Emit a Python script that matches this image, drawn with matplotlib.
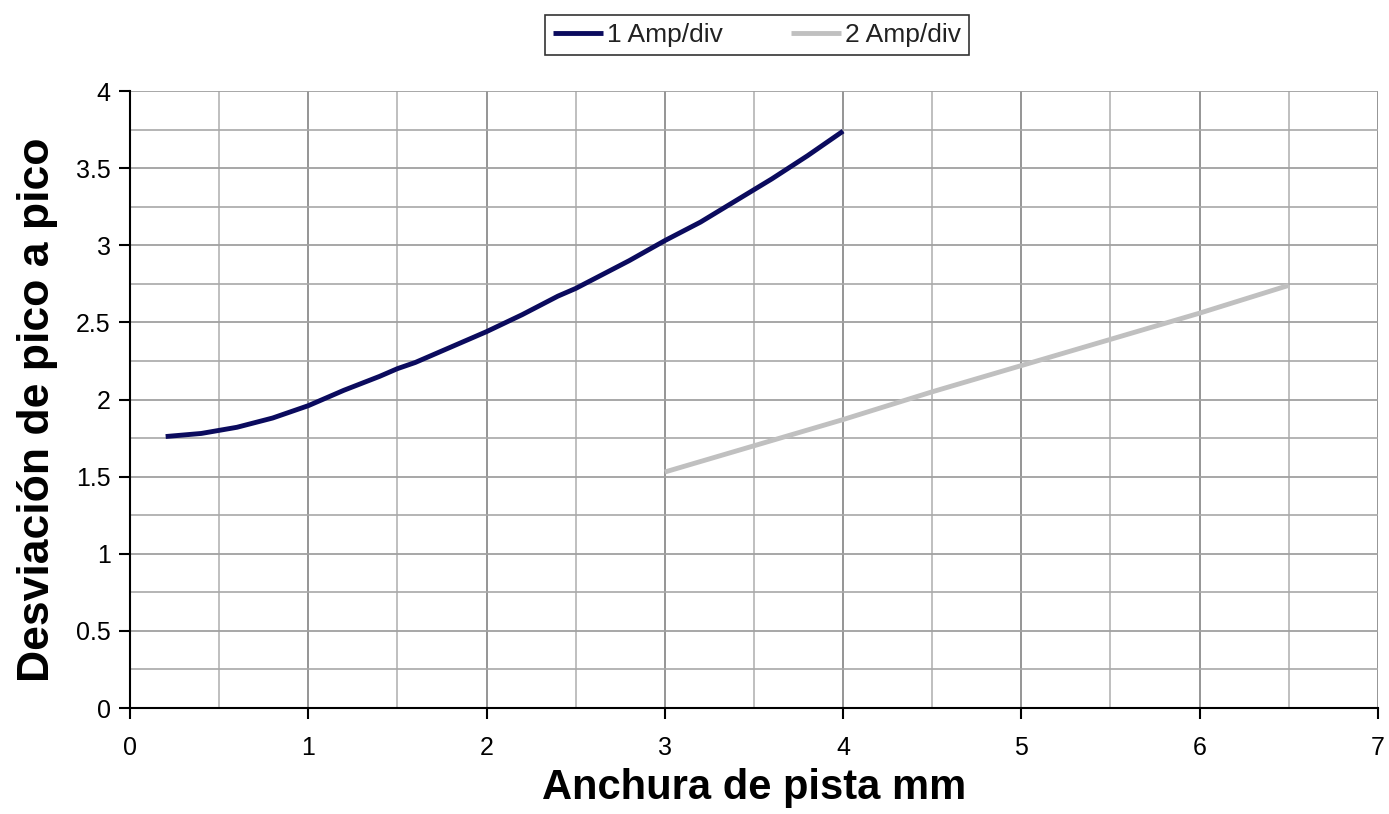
import matplotlib
matplotlib.use("Agg")
import matplotlib.pyplot as plt
from matplotlib.ticker import MultipleLocator, FormatStrFormatter

plt.rcParams['font.family'] = ['Liberation Sans', 'DejaVu Sans']

x1 = [0.2, 0.3, 0.4, 0.5, 0.6, 0.7, 0.8, 0.9, 1.0, 1.2, 1.4, 1.5, 1.6, 1.8, 2.0,
      2.2, 2.4, 2.5, 2.6, 2.8, 3.0, 3.2, 3.4, 3.5, 3.6, 3.8, 4.0]
y1 = [1.76, 1.77, 1.78, 1.80, 1.82, 1.85, 1.88, 1.92, 1.96, 2.06, 2.15, 2.20, 2.24,
      2.34, 2.44, 2.55, 2.67, 2.72, 2.78, 2.90, 3.03, 3.15, 3.29, 3.36, 3.43, 3.58, 3.74]
x2 = [3.0, 3.5, 4.0, 4.5, 5.0, 5.5, 6.0, 6.5]
y2 = [1.53, 1.70, 1.87, 2.05, 2.22, 2.39, 2.56, 2.74]

labels = ["1 Amp/div", "2 Amp/div"]
colors = ["#0b0b5e", "#c0c0c0"]

fig = plt.figure(figsize=(13.89, 8.14), dpi=100)
ax = fig.add_axes([0.0936, 0.1302, 0.8984, 0.7580])

ax.plot(x1, y1, color=colors[0], lw=3.5, label=labels[0], solid_capstyle='butt')
ax.plot(x2, y2, color=colors[1], lw=3.5, label=labels[1], solid_capstyle='butt')

ax.set_xlim(0, 7)
ax.set_ylim(0, 4)
ax.xaxis.set_major_locator(MultipleLocator(1))
ax.xaxis.set_minor_locator(MultipleLocator(0.5))
ax.yaxis.set_major_locator(MultipleLocator(0.5))
ax.yaxis.set_minor_locator(MultipleLocator(0.25))
ax.xaxis.set_major_formatter(FormatStrFormatter('%g'))
ax.yaxis.set_major_formatter(FormatStrFormatter('%g'))
ax.xaxis.grid(True, which='major', color='#8c8c8c', lw=1.3)
ax.xaxis.grid(True, which='minor', color='#b4b4b4', lw=1.2)
ax.yaxis.grid(True, which='major', color='#a0a0a0', lw=1.3)
ax.yaxis.grid(True, which='minor', color='#a8a8a8', lw=1.2)
ax.set_axisbelow(True)
for s in ['top', 'right']:
    ax.spines[s].set_visible(False)
for s in ['left', 'bottom']:
    ax.spines[s].set_linewidth(1.5)
    ax.spines[s].set_color('black')
ax.tick_params(which='major', length=8, width=1.5, labelsize=18, direction='out')
ax.tick_params(axis='x', which='major', pad=12)
ax.tick_params(axis='y', which='major', pad=6)
ax.tick_params(which='minor', length=0)

ax.set_xlabel("Anchura de pista mm", fontsize=30, fontweight='bold', labelpad=6)
ax.set_ylabel("Desviación de pico a pico", fontsize=32, fontweight='bold')
ax.yaxis.set_label_coords(-0.0575, 0.483)

leg = fig.legend(loc='center', bbox_to_anchor=(0.545, 0.957), ncol=2, fontsize=19,
                 frameon=True, fancybox=False, edgecolor='black', handlelength=1.9,
                 handletextpad=0.15, columnspacing=2.6, borderpad=0.3)
leg.get_frame().set_linewidth(1.2)
for t in leg.get_texts():
    t.set_color('#222222')

fig.savefig("out.png", dpi=100)
